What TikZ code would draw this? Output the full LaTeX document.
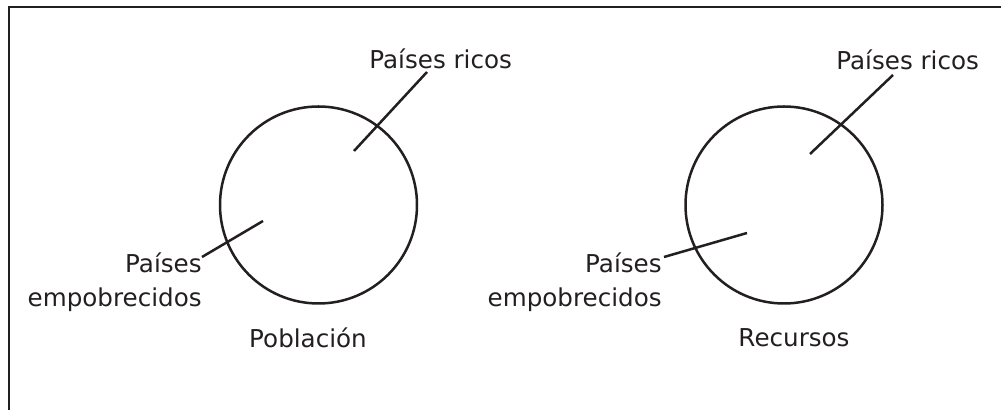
\documentclass[tikz,border=0pt]{standalone}
\usepackage{fontspec}
\setmainfont{DejaVu Sans}
\definecolor{ink}{HTML}{231F20}
\begin{document}
\begin{tikzpicture}[x=0.5pt,y=-0.5pt,
  lbl/.style={inner sep=0pt,text=ink,font=\fontsize{12.3pt}{14pt}\selectfont},
  ring/.style={draw=ink,line width=1.25pt},
  lead/.style={draw=ink,line width=1.25pt}]
\clip (0,0) rectangle (1001,410);
\fill[white] (0,0) rectangle (1001,410);
% frame
\draw[ink,line width=1.4pt] (9,420) -- (9,7) -- (1010,7);
% circles
\node[ring,circle,minimum size=98.5pt,inner sep=0pt] (cL) at (318.5,205) {};
\node[ring,circle,minimum size=98.5pt,inner sep=0pt] (cR) at (784,205) {};
% labels left
\node[lbl,anchor=base west] (ricL) at (369,69) {Países ricos};
\node[lbl,anchor=base east] (pobL1) at (202,273) {Países};
\node[lbl,anchor=base east] (pobL2) at (202,307) {empobrecidos};
\node[lbl,anchor=base] (popL) at (308,348) {Población};
% labels right
\node[lbl,anchor=base west] (ricR) at (836,70) {Países ricos};
\node[lbl,anchor=base east] (pobR1) at (662,273) {Países};
\node[lbl,anchor=base east] (pobR2) at (662,307) {empobrecidos};
\node[lbl,anchor=base] (popR) at (794,347) {Recursos};
% leader coordinates
\coordinate (aL1) at (354,151);
\coordinate (bL1) at (427,72);
\coordinate (aL2) at (263,221);
\coordinate (bL2) at (202,257);
\coordinate (aR1) at (810,154);
\coordinate (bR1) at (893,75);
\coordinate (aR2) at (747,233);
\coordinate (bR2) at (664,257);
\draw[lead] (aL1) -- (bL1);
\draw[lead] (aL2) -- (bL2);
\draw[lead] (aR1) -- (bR1);
\draw[lead] (aR2) -- (bR2);
\end{tikzpicture}
\end{document}
